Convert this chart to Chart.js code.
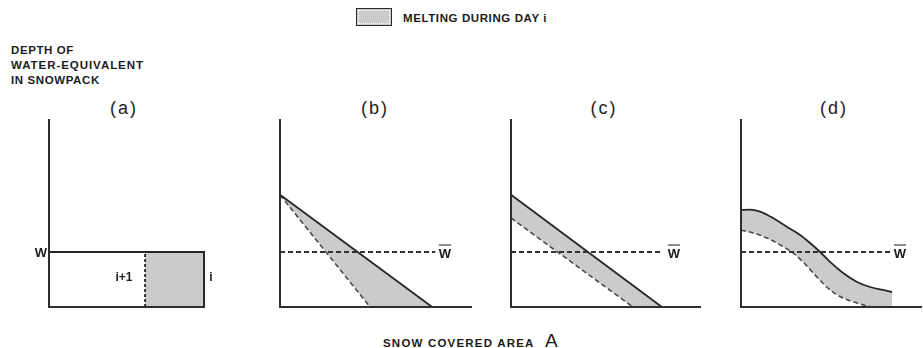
<!DOCTYPE html>
<html>
<head>
<meta charset="utf-8">
<script src="https://cdn.jsdelivr.net/npm/chart.js@4.4.1/dist/chart.umd.min.js"></script>
<style>
  body { margin: 0; background: #fff; width: 923px; height: 348px; position: relative; overflow: hidden;
         font-family: "Liberation Sans", Arial, sans-serif; color: #1c1c1c; }
  .t { position: absolute; white-space: nowrap; line-height: 1; }
  .mid { transform: translate(-50%, -50%); }
  .caps { font-weight: bold; font-size: 11.5px; letter-spacing: 0.6px; }
  .panel { position: absolute; }
  .wbar { font-weight: bold; font-size: 13px; text-decoration: overline; }
  .key { position: absolute; left: 356px; top: 8px; width: 34px; height: 16px; background: #cbcbcb;
         border: 1.5px solid #2a2a2a; outline: 1px dotted #fff; outline-offset: -3px; }
</style>
</head>
<body>
<div class="key"></div>
<div class="t caps" style="left:403px;top:13px;">MELTING DURING DAY i</div>

<div class="t caps" style="left:11px;top:43px;line-height:15px;">DEPTH OF<br><span style="letter-spacing:0.95px;">WATER-EQUIVALENT</span><br>IN SNOWPACK</div>

<div class="t mid" style="left:124px;top:108px;font-size:18px;letter-spacing:2px;">(a)</div>
<div class="t mid" style="left:375px;top:108px;font-size:18px;letter-spacing:2px;">(b)</div>
<div class="t mid" style="left:604px;top:108px;font-size:18px;letter-spacing:2px;">(c)</div>
<div class="t mid" style="left:834px;top:108px;font-size:18px;letter-spacing:2px;">(d)</div>

<canvas class="panel" id="pa"></canvas>
<canvas class="panel" id="pb"></canvas>
<canvas class="panel" id="pc"></canvas>
<canvas class="panel" id="pd"></canvas>

<div class="t mid" style="left:41px;top:252px;font-weight:bold;font-size:13px;">W</div>
<div class="t mid" style="left:124px;top:277px;font-weight:bold;font-size:12px;">i+1</div>
<div class="t mid" style="left:211px;top:277px;font-weight:bold;font-size:12px;">i</div>
<div class="t mid wbar" style="left:445px;top:253px;">W</div>
<div class="t mid wbar" style="left:674px;top:253px;">W</div>
<div class="t mid wbar" style="left:900px;top:253px;">W</div>

<div class="t" style="left:383px;top:331px;">
  <span style="font-weight:bold;font-size:11.5px;letter-spacing:1.2px;">SNOW COVERED AREA</span>
  <span style="font-size:19px;margin-left:6px;">A</span>
</div>

<script>
// depth of water-equivalent, arbitrary units (0..10 on every panel)
const Y_MAX = 10;
const wLevel = 2.94;            // W in (a), W-bar in (b)-(d)

// (a) uniform snowpack
const aPackX = [0, 10];
const aMeltX = [6.2, 10];

// (b) linear depletion, melt reaches the bottom early
const bUpperX = [0, 9.8];
const bUpperY = [6.0, 0];
const bLowerX = [0, 5.8];
const bLowerY = [6.0, 0];

// (c) linear depletion, uniform melt
const cUpperX = [0, 9.74];
const cUpperY = [6.0, 0];
const cLowerX = [0, 7.87];
const cLowerY = [4.76, 0];

// (d) s-shaped depletion curve
const dUpperX = [0, 0.58, 1.23, 2.06, 2.97, 3.81, 4.45, 5.1, 5.74, 6.58, 7.48, 8.32, 9.16, 9.74];
const dUpperY = [5.19, 5.21, 5.1, 4.76, 4.28, 3.85, 3.42, 2.94, 2.41, 1.82, 1.34, 1.07, 0.91, 0.8];
const dLowerX = [0, 0.77, 1.68, 2.52, 3.35, 4.0, 4.9, 5.74, 6.58, 7.48, 8.13, 8.52];
const dLowerY = [4.12, 3.96, 3.69, 3.32, 2.89, 2.41, 1.6, 0.91, 0.48, 0.21, 0.05, 0];

// where the W-bar line stops in (b), (c), (d)
const wBarEnd = [10.0, 9.8, 9.75];

// layout of the four panels (pixels)
const PANEL_LEFT = [49, 280, 511, 741];
const PANEL_XMAX = [10, 12.3, 12.2, 11.6];
const PANEL_TOP = 120;
const PLOT_H = 187;
const PX_PER_X = 15.5;
const PAD = 6;

const INK = "#262626";
const MELT = "#cbcbcb";

const pts = (xs, ys) => xs.map((x, i) => ({ x, y: ys[i] }));

function panel(id, idx, datasets) {
    const canvas = document.getElementById(id);
    const w = Math.round(PANEL_XMAX[idx] * PX_PER_X) + PAD * 2;
    const h = PLOT_H + PAD * 2;
    canvas.width = w; canvas.height = h;
    canvas.style.width = w + "px"; canvas.style.height = h + "px";
    canvas.style.left = (PANEL_LEFT[idx] - PAD) + "px";
    canvas.style.top = (PANEL_TOP - PAD) + "px";
    const axis = (max) => ({
        type: "linear", min: 0, max,
        ticks: { display: false },
        grid: { display: false, drawTicks: false },
        border: { display: true, color: "#2e2e2e", width: 2, z: 1 },
    });
    return new Chart(canvas, {
        type: "line",
        data: { datasets },
        options: {
            responsive: false, animation: false,
            layout: { padding: PAD },
            elements: { point: { radius: 0 } },
            plugins: { legend: { display: false }, tooltip: { enabled: false }, filler: { drawTime: "beforeDatasetsDraw" } },
            scales: { x: axis(PANEL_XMAX[idx]), y: axis(Y_MAX) },
        },
    });
}

function wBarLine(i) {
    return { data: pts([0, wBarEnd[i]], [wLevel, wLevel]), borderColor: "#333", borderWidth: 2, borderDash: [5, 3], fill: false, clip: false };
}
function upperLine(xs, ys, extra) {
    return Object.assign({ data: pts(xs, ys), borderColor: INK, borderWidth: 1.8, backgroundColor: MELT, fill: 3, clip: false }, extra);
}
function lowerLine(xs, ys, extra) {
    return Object.assign({ data: pts(xs, ys), borderColor: "#4a4a4a", borderWidth: 1.6, borderDash: [5, 3], fill: false, clip: false }, extra);
}
// lower boundary continued along the axis to the end of the upper curve, only used as fill target
function meltFloor(xs, ys, endX, extra) {
    return Object.assign({ data: pts(xs.concat([endX]), ys.concat([0])), borderWidth: 0, borderColor: "rgba(0,0,0,0)", fill: false }, extra);
}

// (a)
panel("pa", 0, [
    { data: pts([aPackX[0], aPackX[1], aPackX[1]], [wLevel, wLevel, 0]), borderColor: INK, borderWidth: 2, fill: false, clip: false },
    { data: pts(aMeltX, [wLevel, wLevel]), borderWidth: 0, backgroundColor: MELT, fill: "origin" },
    { data: pts([aMeltX[0], aMeltX[0]], [0, wLevel]), borderColor: "#333", borderWidth: 2, borderDash: [3, 2], fill: false, clip: false },
]);

// (b)
panel("pb", 1, [
    wBarLine(0),
    upperLine(bUpperX, bUpperY),
    lowerLine(bLowerX, bLowerY),
    meltFloor(bLowerX, bLowerY, bUpperX[bUpperX.length - 1]),
]);

// (c)
panel("pc", 2, [
    wBarLine(1),
    upperLine(cUpperX, cUpperY),
    lowerLine(cLowerX, cLowerY),
    meltFloor(cLowerX, cLowerY, cUpperX[cUpperX.length - 1]),
]);

// (d)
const smooth = { cubicInterpolationMode: "monotone" };
panel("pd", 3, [
    wBarLine(2),
    upperLine(dUpperX, dUpperY, smooth),
    lowerLine(dLowerX, dLowerY, smooth),
    meltFloor(dLowerX, dLowerY, dUpperX[dUpperX.length - 1], smooth),
]);
</script>
</body>
</html>
